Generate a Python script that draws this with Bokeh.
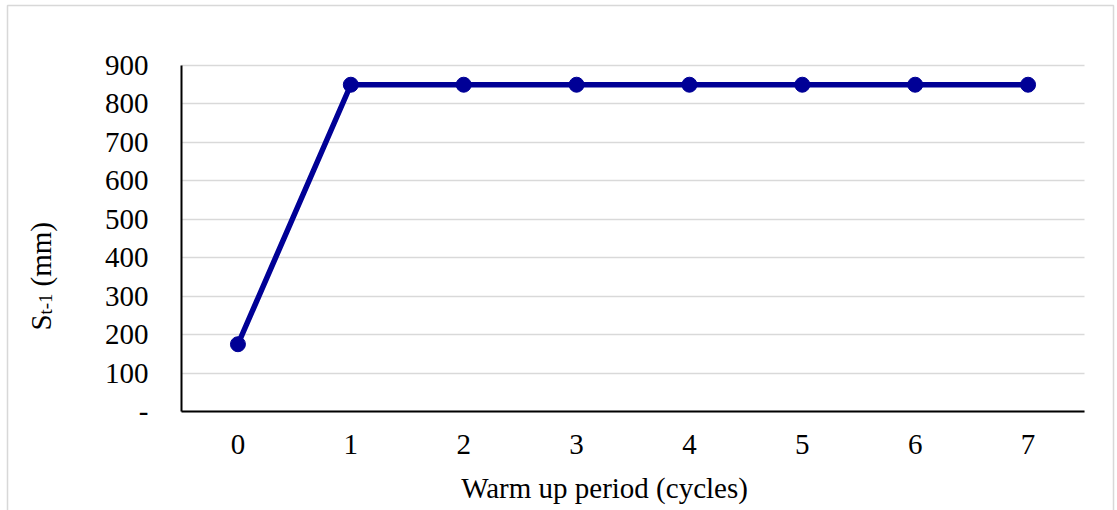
import math
from bokeh.plotting import figure
from bokeh.models import Range1d, FixedTicker, Label, BoxAnnotation, ColumnDataSource
from bokeh.embed import file_html
from bokeh.resources import INLINE

# ---- data ----
cycles = [0, 1, 2, 3, 4, 5, 6, 7]
cycle_labels = ["0", "1", "2", "3", "4", "5", "6", "7"]
storage = [175, 850, 850, 850, 850, 850, 850, 850]
y_ticks = [0, 100, 200, 300, 400, 500, 600, 700, 800, 900]
x_title = "Warm up period (cycles)"

FONT = "Liberation Serif"
BLUE = "#000096"

W, H = 1117, 510
# pixel layout of the plotting area (axes box)
AX_L, AX_R, AX_T, AX_B = 181, 1084, 65, 411
ymin, ymax = min(y_ticks), max(y_ticks)
xlo, xhi = cycles[0] - 0.5, cycles[-1] + 0.5
kx = (AX_R - AX_L) / (xhi - xlo)
ky = (AX_B - AX_T) / (ymax - ymin)
x_range = Range1d(xlo - AX_L / kx, xhi + (W - AX_R) / kx)
y_range = Range1d(ymin - (H - AX_B) / ky, ymax + AX_T / ky)

p = figure(width=W, height=H, x_range=x_range, y_range=y_range,
           output_backend="svg", toolbar_location=None)
p.min_border = 0
p.min_border_left = 0
p.min_border_right = 0
p.min_border_top = 0
p.min_border_bottom = 0
p.outline_line_color = None
p.background_fill_color = "white"
p.border_fill_color = "white"

# grid
p.xgrid.grid_line_color = None
p.ygrid.ticker = FixedTicker(ticks=y_ticks)
p.ygrid.grid_line_color = "#d9d9d9"
p.ygrid.grid_line_width = 1.5
if "cross_bounds" in p.ygrid[0].properties():
    p.ygrid[0].cross_bounds = (xlo, xhi)

src = ColumnDataSource(dict(x=cycles, y=storage))
p.line("x", "y", source=src, line_color=BLUE, line_width=5.5)
p.scatter("x", "y", source=src, size=15, fill_color=BLUE, line_color=BLUE)

# axes
xa, ya = p.xaxis[0], p.yaxis[0]
for ax in (xa, ya):
    ax.axis_line_color = "black"
    ax.axis_line_width = 2
    ax.major_tick_line_color = None
    ax.minor_tick_line_color = None
    ax.major_tick_out = 0
    ax.major_tick_in = 0
    ax.minor_tick_out = 0
    ax.minor_tick_in = 0
    ax.major_label_text_font = FONT
    ax.major_label_text_font_size = "29px"
    ax.major_label_text_color = "black"

ya.ticker = FixedTicker(ticks=y_ticks)
ya.major_label_overrides = {0: "-"}
ya.major_label_standoff = 33
ya.fixed_location = xlo
ya.bounds = (ymin, ymax)

xa.ticker = FixedTicker(ticks=cycles)
xa.major_label_overrides = {c: s for c, s in zip(cycles, cycle_labels)}
xa.major_label_standoff = 23
xa.fixed_location = ymin
xa.bounds = (xlo, xhi)

def lab(x, y, text, size, angle=0.0, align="left"):
    # x from left edge, y from top edge (pixels)
    p.add_layout(Label(x=x, y=H - y, x_units="screen", y_units="screen", text=text,
                       angle=angle, text_font=FONT, text_font_size=size,
                       text_align=align, text_baseline="alphabetic", text_color="black"))

# x title
lab(604, 487, x_title, "29px", align="center")
# y title with subscript
ang = math.pi / 2
lab(40, 330, "S", "29px", ang)
lab(44.5, 314, "t-1", "19px", ang)
lab(40, 286, "(mm)", "29px", ang)

# outer chart border
p.add_layout(BoxAnnotation(left=7, right=1113, top=H - 5, bottom=-20,
                           left_units="screen", right_units="screen",
                           top_units="screen", bottom_units="screen",
                           fill_color=None, line_color="#7f7f7f", line_width=1.5))

open("out.html", "w").write(file_html(p, INLINE))
